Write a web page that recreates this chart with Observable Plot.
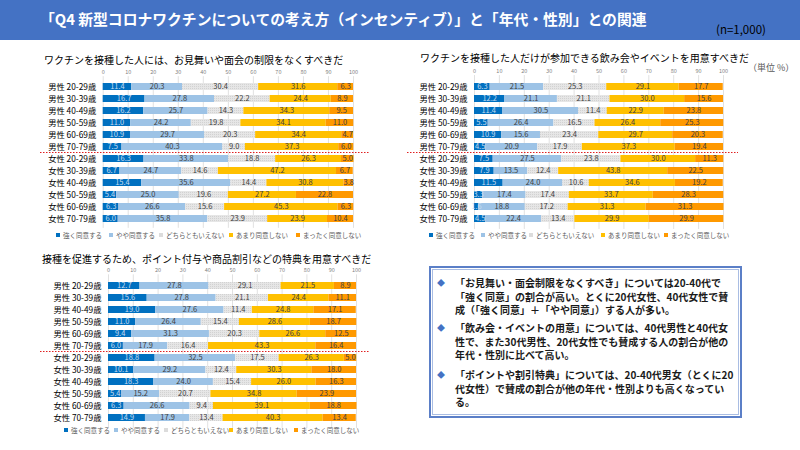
<!DOCTYPE html>
<html><head><meta charset="utf-8">
<script src="https://cdn.jsdelivr.net/npm/d3@7"></script>
<script src="https://cdn.jsdelivr.net/npm/@observablehq/plot@0.6"></script>
<style>
body{margin:0;width:800px;height:450px;position:relative;overflow:hidden;background:#fff;font-family:"Noto Sans CJK JP","Noto Sans",sans-serif;}
.abs{position:absolute;white-space:nowrap;}
.ctitle{font-size:10px;color:#000;}
.leg{font-size:6.5px;color:#595959;display:flex;align-items:center;}
.leg span.sw{display:inline-block;width:4px;height:4px;margin-right:3px;}
.para{font-size:10px;font-weight:bold;color:#1a1a1a;line-height:13.5px;white-space:nowrap;}
.bul{color:#4472C4;font-size:8px;line-height:10px;}
</style></head><body>
<svg width="0" height="0" style="position:absolute">
  <defs>
    <pattern id="dots" width="2" height="2" patternUnits="userSpaceOnUse">
      <rect width="2" height="2" fill="#E6E6E6"></rect>
      <rect width="1" height="1" fill="#D2D2D2"></rect>
    </pattern>
  </defs>
</svg>
<div id="root"></div>
<script>
// ---------- data ----------
const groups = ["男性 20-29歳","男性 30-39歳","男性 40-49歳","男性 50-59歳","男性 60-69歳","男性 70-79歳",
                "女性 20-29歳","女性 30-39歳","女性 40-49歳","女性 50-59歳","女性 60-69歳","女性 70-79歳"];
const categories = ["強く同意する","やや同意する","どちらともいえない","あまり同意しない","まったく同意しない"];
const tickValues = [0,10,20,30,40,50,60,70,80,90,100];

// Q: お見舞いや面会の制限をなくすべきだ
const visitValues = [
  [11.4,20.3,30.4,31.6,6.3],
  [16.7,27.8,22.2,24.4,8.9],
  [16.2,25.7,14.3,34.3,9.5],
  [11.0,24.2,19.8,34.1,11.0],
  [10.9,29.7,20.3,34.4,4.7],
  [7.5,40.3,9.0,37.3,6.0],
  [16.3,33.8,18.8,26.3,5.0],
  [6.7,24.7,14.6,47.2,6.7],
  [15.4,35.6,14.4,30.8,3.8],
  [5.4,25.0,19.6,27.2,22.8],
  [6.3,26.6,15.6,45.3,6.3],
  [6.0,35.8,23.9,23.9,10.4]
];
// Q: 飲み会やイベントを用意すべきだ
const eventValues = [
  [6.3,21.5,25.3,29.1,17.7],
  [12.2,21.1,21.1,30.0,15.6],
  [11.4,30.5,11.4,22.9,23.8],
  [5.5,26.4,16.5,26.4,25.3],
  [10.9,15.6,23.4,29.7,20.3],
  [4.5,20.9,17.9,37.3,19.4],
  [7.5,27.5,23.8,30.0,11.3],
  [7.9,13.5,12.4,43.8,22.5],
  [11.5,24.0,10.6,34.6,19.2],
  [3.3,17.4,17.4,33.7,28.3],
  [1.6,18.8,17.2,31.3,31.3],
  [4.5,22.4,13.4,29.9,29.9]
];
// Q: ポイント付与や商品割引などの特典を用意すべきだ
const pointValues = [
  [12.7,27.8,29.1,21.5,8.9],
  [15.6,27.8,21.1,24.4,11.1],
  [19.0,27.6,11.4,24.8,17.1],
  [11.0,26.4,15.4,28.6,18.7],
  [9.4,31.3,20.3,26.6,12.5],
  [6.0,17.9,16.4,43.3,16.4],
  [18.8,32.5,17.5,26.3,5.0],
  [10.1,29.2,12.4,30.3,18.0],
  [18.3,24.0,15.4,26.0,16.3],
  [5.4,15.2,20.7,34.8,23.9],
  [6.3,26.6,9.4,39.1,18.8],
  [14.9,17.9,13.4,40.3,13.4]
];
const colors = ["#0070C0","#9DC3E6","#DCDCDC","#FFC000","#FF9900"];
const barFills = ["#0070C0","#9DC3E6","url(#dots)","#FFC000","#FF9900"];

const root = document.getElementById("root");
function addDiv(html, cls, left, top, extra) {
  const d = document.createElement("div");
  d.className = "abs " + (cls||"");
  d.style.left = left + "px"; d.style.top = top + "px";
  if (extra) Object.assign(d.style, extra);
  d.innerHTML = html;
  root.appendChild(d);
  return d;
}

// header
addDiv("", "", 0, 0, {width:"800px", height:"40px", background:"#4472C4"});
addDiv("「Q4 新型コロナワクチンについての考え方（インセンティブ）」と「年代・性別」との関連", "", 40, 8,
  {color:"#fff", fontWeight:"bold", fontSize:"14.8px"});
addDiv("(n=1,000)", "", 716, 21, {color:"#000", fontSize:"11.5px"});

function drawChart(cfg) {
  const {values, left, top, width, height, x0, x1, yFirst, yLast, sep0, sep1} = cfg;
  const data = [];
  groups.forEach((g,i) => categories.forEach((c,j) => data.push({group:g, cat:c, ci:j, value:values[i][j]})));
  const n = groups.length, p = 0.45;
  const step = (yLast - yFirst) / (n - 1);
  const off = step * (1 + p) / 2;
  const plot = Plot.plot({
    width, height,
    marginTop: yFirst - off - top,
    marginBottom: top + height - (yLast + off),
    marginLeft: x0 - left,
    marginRight: left + width - x1,
    style: {fontFamily: '"Noto Sans CJK JP", sans-serif', background: "transparent", overflow: "visible"},
    x: {domain: [0, 100]},
    y: {domain: groups, padding: p},
    color: {type: "identity"},
    marks: [
      Plot.gridX(tickValues, {stroke: "#D9D9D9", strokeOpacity: 1, strokeWidth: 0.8}),
      Plot.axisX(tickValues, {anchor: "top", tickSize: 0, tickPadding: 3, fontSize: 5.5, fill: "#7f7f7f", label: null}),
      Plot.axisY({tickSize: 0, tickPadding: 7, fontSize: 8.3, fill: "#000", label: null}),
      Plot.barX(data, Plot.stackX({y: "group", x: "value", z: "cat", fill: d => barFills[d.ci]})),
      Plot.text(data, Plot.stackX({y: "group", x: "value", z: "cat", text: d => d.value.toFixed(1),
        fill: d => d.ci === 0 ? "#C5DCF0" : "#404040", fontSize: 7.5}))
    ]
  });
  plot.style.position = "absolute";
  plot.style.left = left + "px";
  plot.style.top = top + "px";
  const ys = plot.scale("y");
  const yMid = (ys.apply(groups[5]) + ys.apply(groups[6])) / 2 + ys.bandwidth / 2;
  d3.select(plot).append("line")
    .attr("x1", sep0 - left).attr("x2", sep1 - left)
    .attr("y1", yMid).attr("y2", yMid)
    .attr("stroke", "#E02020").attr("stroke-width", 1).attr("stroke-dasharray", "1.5,1.5");
  root.appendChild(plot);
}

function legend(xs, y) {
  categories.forEach((c, i) => {
    addDiv(`<span class="sw" style="background:${colors[i]}"></span>${c}`, "leg", xs[i], y - 5);
  });
}

// chart 1
addDiv("ワクチンを接種した人には、お見舞いや面会の制限をなくすべきだ", "ctitle", 44, 52);
drawChart({values: visitValues, left: 0, top: 62, width: 380, height: 170,
  x0: 102.7, x1: 353, yFirst: 85, yLast: 219, sep0: 40, sep1: 370});
legend([56, 109, 159, 229, 296], 235);

// chart 2
addDiv("ワクチンを接種した人だけが参加できる飲み会やイベントを用意すべきだ", "ctitle", 420, 50);
addDiv("（単位 %）", "", 748, 61, {fontSize: "9px", color: "#595959"});
drawChart({values: eventValues, left: 400, top: 62, width: 380, height: 170,
  x0: 474, x1: 723, yFirst: 84, yLast: 220, sep0: 407, sep1: 738});
legend([429, 481, 529, 601, 664], 235);

// chart 3
addDiv("接種を促進するため、ポイント付与や商品割引などの特典を用意すべきだ", "ctitle", 42, 251);
drawChart({values: pointValues, left: 0, top: 262, width: 380, height: 172,
  x0: 108, x1: 356, yFirst: 283.3, yLast: 419, sep0: 40, sep1: 370});
legend([64, 114, 164, 229, 294], 430);

// note box
addDiv("", "", 429, 266, {width: "313px", height: "152px", border: "2px solid #5B7FC7", boxSizing: "border-box"});
addDiv("", "", 432, 269, {width: "307px", height: "146px", border: "1px solid #A9BDE3", boxSizing: "border-box"});
const notes = [
  "「お見舞い・面会制限をなくすべき」については20-40代で<br>「強く同意」の割合が高い。とくに20代女性、40代女性で賛<br>成（「強く同意」＋「やや同意」）する人が多い。",
  "「飲み会・イベントの用意」については、40代男性と40代女<br>性で、また30代男性、20代女性でも賛成する人の割合が他の<br>年代・性別に比べて高い。",
  "「ポイントや割引特典」については、20-40代男女（とくに20<br>代女性）で賛成の割合が他の年代・性別よりも高くなってい<br>る。"
];
const noteTops = [276, 321, 368];
notes.forEach((t, i) => {
  addDiv("◆", "bul", 437, noteTops[i] + 2);
  addDiv(t, "para", 455, noteTops[i]);
});
</script>
</body></html>
